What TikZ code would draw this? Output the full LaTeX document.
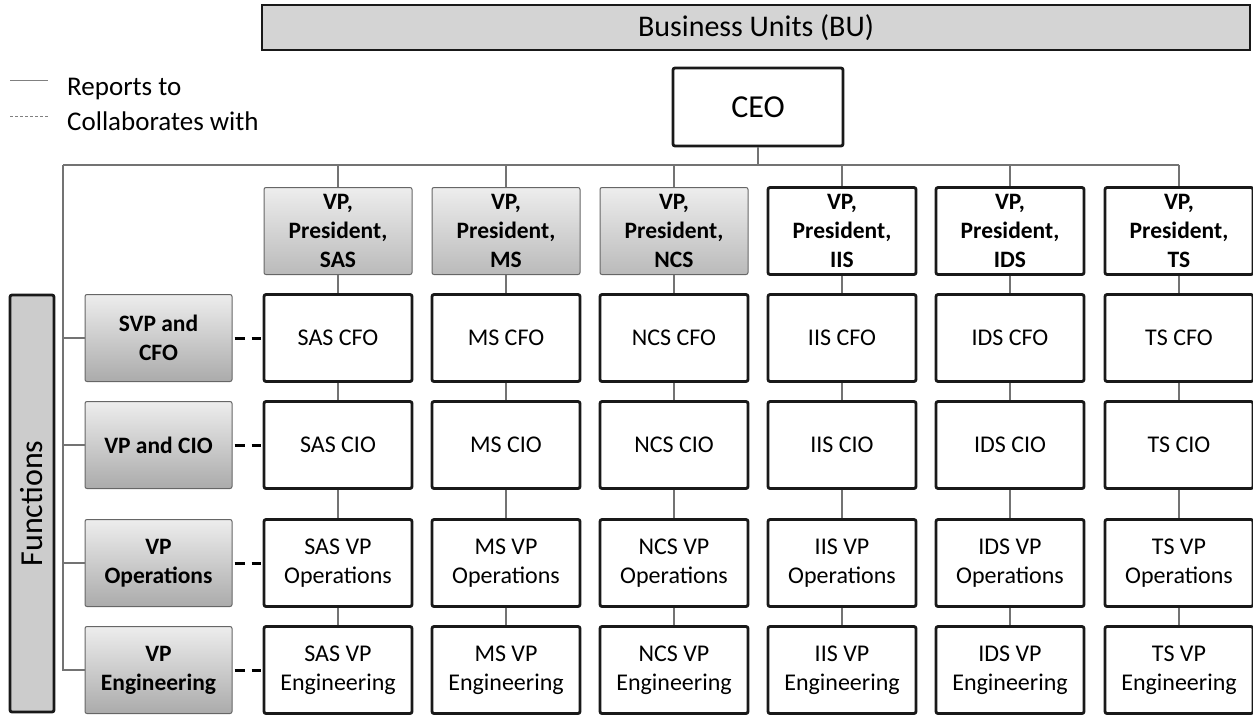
\documentclass[tikz,border=0pt]{standalone}
\usepackage{fontspec}
\setmainfont{Carlito}
\begin{document}
\begin{tikzpicture}[x=1pt,y=-1pt,
  box/.style={draw=black!90, line width=2.8pt, rounded corners=2pt, fill=white,
    minimum width=148pt, minimum height=87pt, inner sep=0pt, align=center, text=black},
  cell/.style={box, font=\fontsize{24}{29}\selectfont},
  headw/.style={box, font=\fontsize{23.5}{29}\selectfont\bfseries},
  headg/.style={headw, draw=black!60, line width=1pt, top color=black!7, bottom color=black!27},
  func/.style={headg, minimum width=147pt, bottom color=black!33},
  conn/.style={draw=black!55, line width=1.1pt},
  collab/.style={draw=black, line width=3pt, dash pattern=on 10pt off 7pt,
    shorten <=2pt, shorten >=2pt},
  legendtext/.style={anchor=base west, inner sep=0pt, text=black,
    font=\fontsize{27}{32}\selectfont},
]
\useasboundingbox (0,0) rectangle (1253,715);

% banner and side label
\node[draw=black!90, line width=2.4pt, fill=black!17, minimum width=988pt,
  minimum height=45pt, inner sep=0pt, text=black,
  font=\fontsize{30}{36}\selectfont] (bu) at (756,27.5) {Business Units (BU)};
\node[draw=black!90, line width=2.8pt, fill=black!20, rounded corners=2pt,
  minimum width=417pt, minimum height=44pt, inner sep=0pt, rotate=90, text=black,
  font=\fontsize{32}{38}\selectfont] (fn) at (32,503.5) {Functions};

% legend
\coordinate (ls1) at (10,80);
\coordinate (ls2) at (48,80);
\coordinate (ld1) at (10,116);
\coordinate (ld2) at (48,116);
\draw[draw=black!50, line width=1pt] (ls1) -- (ls2);
\draw[draw=black!50, line width=1pt, dash pattern=on 2.5pt off 2.5pt] (ld1) -- (ld2);
\node[legendtext] (lrep) at (67,95) {Reports to};
\node[legendtext] (lcol) at (67,130) {Collaborates with};

% CEO
\node[box, minimum width=170pt, minimum height=78pt,
  font=\fontsize{32}{36}\selectfont] (ceo) at (758,107) {CEO};

% business unit heads
\foreach \c/\x in {SAS/338, MS/506, NCS/674}
  \node[headg] (vp\c) at (\x,231) {VP,\\President,\\\c};
\foreach \c/\x in {IIS/842, IDS/1010, TS/1179}
  \node[headw] (vp\c) at (\x,231) {VP,\\President,\\\c};

% functional heads
\node[func] (fCFO) at (158.5,338) {SVP and\\CFO};
\node[func] (fCIO) at (158.5,445) {VP and CIO};
\node[func] (fOps) at (158.5,563) {VP\\Operations};
\node[func] (fEng) at (158.5,670) {VP\\Engineering};

% grid of unit roles
\foreach \c/\x in {SAS/338, MS/506, NCS/674, IIS/842, IDS/1010, TS/1179} {
  \node[cell] (cfo\c) at (\x,338) {\c\ CFO};
  \node[cell] (cio\c) at (\x,445) {\c\ CIO};
  \node[cell] (ops\c) at (\x,563) {\c\ VP\\Operations};
  \node[cell] (eng\c) at (\x,670) {\c\ VP\\Engineering};
}

% reporting lines
\coordinate (busL) at (63,165);
\draw[conn] (ceo.south) -- (ceo.south |- busL);
\draw[conn] (busL) -- (vpTS.north |- busL);
\foreach \c in {SAS, MS, NCS, IIS, IDS, TS} {
  \draw[conn] (vp\c.north |- busL) -- (vp\c.north);
  \draw[conn] (vp\c.south) -- (cfo\c.north);
  \draw[conn] (cfo\c.south) -- (cio\c.north);
  \draw[conn] (cio\c.south) -- (ops\c.north);
  \draw[conn] (ops\c.south) -- (eng\c.north);
}
\draw[conn] (busL) |- (fEng.west);
\foreach \f in {CFO, CIO, Ops}
  \draw[conn] (busL |- f\f.west) -- (f\f.west);

% collaboration lines
\draw[collab] (fCFO.east) -- (cfoSAS.west);
\draw[collab] (fCIO.east) -- (cioSAS.west);
\draw[collab] (fOps.east) -- (opsSAS.west);
\draw[collab] (fEng.east) -- (engSAS.west);
\end{tikzpicture}
\end{document}
